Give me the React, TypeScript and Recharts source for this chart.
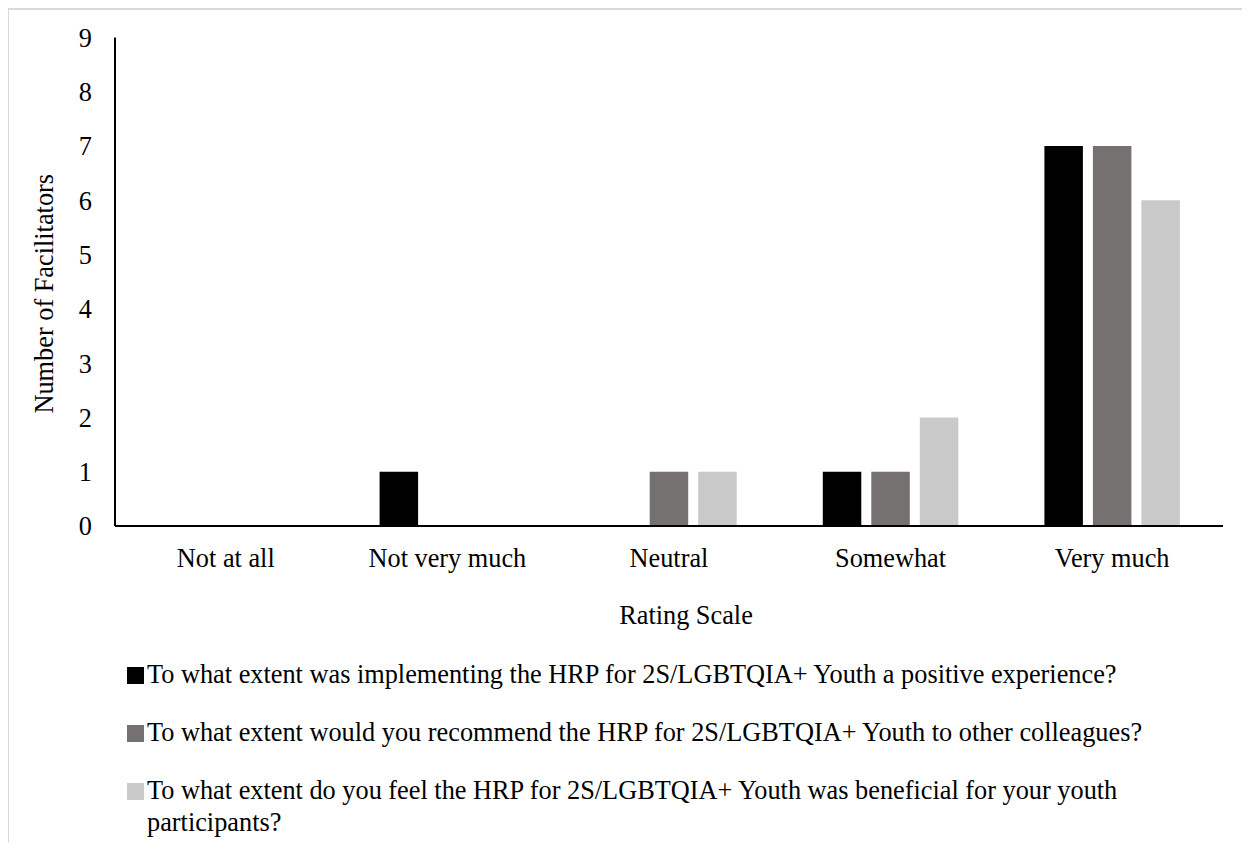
import { Bar, BarChart, Legend, XAxis, YAxis } from "recharts";

const FONT = '"Liberation Serif", "Times New Roman", serif';
const FS = 26.3;

const categories = ["Not at all", "Not very much", "Neutral", "Somewhat", "Very much"];
const positive = [0, 1, 0, 1, 7];
const recommend = [0, 0, 1, 1, 7];
const beneficial = [0, 0, 1, 2, 6];
const yTicks = [0, 1, 2, 3, 4, 5, 6, 7, 8, 9];

const seriesNames = [
  "To what extent was implementing the HRP for 2S/LGBTQIA+ Youth a positive experience?",
  "To what extent would you recommend the HRP for 2S/LGBTQIA+ Youth to other colleagues?",
  "To what extent do you feel the HRP for 2S/LGBTQIA+ Youth was beneficial for your youth participants?",
];
const seriesColors = ["#000000", "#767171", "#c9c9c9"];

const data = categories.map((name, i) => ({
  name,
  positive: positive[i],
  recommend: recommend[i],
  beneficial: beneficial[i],
}));

const TICK = { fill: "#000", fontSize: FS, fontFamily: FONT };

// keep legend in series order (recharts sorts by value otherwise)
function LegendList({ payload }: any) {
  const items = [...(payload || [])].sort(
    (a: any, b: any) => seriesNames.indexOf(a.value) - seriesNames.indexOf(b.value),
  );
  return (
    <div style={{ display: "flex", flexDirection: "column", fontFamily: FONT, fontSize: FS, color: "#000" }}>
      {items.map((p: any, i: number) => (
        <div key={i} style={{ display: "flex", alignItems: "flex-start", marginBottom: 26 }}>
          <span style={{ width: 17, height: 17, marginTop: 8, marginRight: 3, background: p.color, flex: "none" }} />
          <span style={{ lineHeight: "32px", width: 1050 }}>{p.value}</span>
        </div>
      ))}
    </div>
  );
}

function YTitle({ viewBox }: any) {
  const x = 36;
  const y = viewBox.y + viewBox.height / 2 + 12;
  return (
    <text x={x} y={y} transform={`rotate(-90 ${x} ${y})`} textAnchor="middle" dominantBaseline="central"
      fontFamily={FONT} fontSize={FS} fill="#000">
      Number of Facilitators
    </text>
  );
}

function XTitle({ viewBox }: any) {
  const x = viewBox.x + viewBox.width / 2 + 17;
  const y = viewBox.y + 89;
  return (
    <text x={x} y={y} textAnchor="middle" dominantBaseline="central" fontFamily={FONT} fontSize={FS} fill="#000">
      Rating Scale
    </text>
  );
}

export default function App() {
  return (
    <div style={{ position: "relative", width: 1242, height: 836, background: "#fff" }}>
      <style>{`body{margin:8px;overflow:hidden;background:#fff}`}</style>
      <div
        style={{
          position: "absolute", left: -1, top: 0, width: 1240, height: 834, boxSizing: "border-box",
          borderTop: "2px solid #d9d9d9", borderLeft: "2px solid #d9d9d9", pointerEvents: "none",
        }}
      />
      <BarChart width={1242} height={836} data={data} barGap={10} barSize={38.5}
        margin={{ top: 29.5, right: 27, bottom: 8, left: 0 }}>
        <XAxis dataKey="name" height={110} tick={TICK} tickLine={false} tickSize={0} tickMargin={22}
          axisLine={{ stroke: "#000", strokeWidth: 2 }} interval={0} label={XTitle} />
        <YAxis width={107} domain={[0, 9]} ticks={yTicks} interval={0} tick={TICK} tickLine={false}
          tickSize={0} tickMargin={23} axisLine={{ stroke: "#000", strokeWidth: 2 }} label={YTitle} />
        <Legend verticalAlign="bottom" content={LegendList}
          wrapperStyle={{ top: 650.7, left: 119, bottom: "auto", width: 1100, height: 200 }} />
        <Bar dataKey="positive" name={seriesNames[0]} fill={seriesColors[0]} isAnimationActive={false} />
        <Bar dataKey="recommend" name={seriesNames[1]} fill={seriesColors[1]} isAnimationActive={false} />
        <Bar dataKey="beneficial" name={seriesNames[2]} fill={seriesColors[2]} isAnimationActive={false} />
      </BarChart>
    </div>
  );
}
